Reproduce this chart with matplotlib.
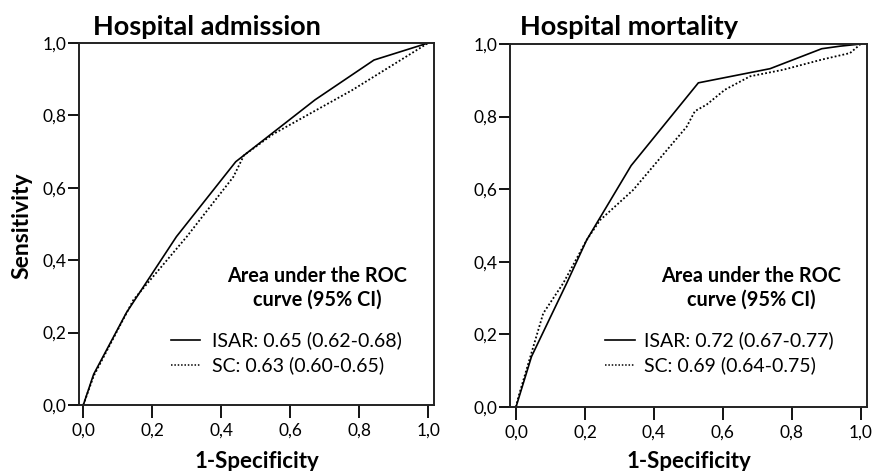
import matplotlib
matplotlib.use("Agg")
import matplotlib.pyplot as plt
from matplotlib.lines import Line2D

plt.rcParams['font.family'] = ['Lato', 'DejaVu Sans']

# ---- data ----
titles = ["Hospital admission", "Hospital mortality"]
adm_isar_x = [0.0, 0.03, 0.125, 0.27, 0.442, 0.672, 0.843, 1.0]
adm_isar_y = [0.0, 0.085, 0.255, 0.465, 0.672, 0.843, 0.953, 1.0]
adm_sc_x = [0.0, 0.03, 0.145, 0.30, 0.435, 0.466, 0.55, 0.78, 1.0]
adm_sc_y = [0.0, 0.08, 0.29, 0.465, 0.63, 0.69, 0.748, 0.87, 1.0]
mort_isar_x = [0.0, 0.045, 0.147, 0.205, 0.334, 0.529, 0.737, 0.887, 0.94, 1.0]
mort_isar_y = [0.0, 0.139, 0.341, 0.46, 0.665, 0.893, 0.932, 0.987, 0.994, 1.0]
mort_sc_x = [0.0, 0.007, 0.079, 0.137, 0.205, 0.244, 0.34, 0.495, 0.519, 0.553,
             0.606, 0.679, 0.775, 0.887, 0.969, 1.0]
mort_sc_y = [0.0, 0.028, 0.258, 0.341, 0.46, 0.515, 0.598, 0.772, 0.815, 0.833,
             0.874, 0.911, 0.929, 0.957, 0.975, 1.0]
legend_adm = ["ISAR: 0.65 (0.62-0.68)", "SC: 0.63 (0.60-0.65)"]
legend_mort = ["ISAR: 0.72 (0.67-0.77)", "SC: 0.69 (0.64-0.75)"]
ticks = [0.0, 0.2, 0.4, 0.6, 0.8, 1.0]
tick_labels = ["0,0", "0,2", "0,4", "0,6", "0,8", "1,0"]

W, H = 874, 471
fig = plt.figure(figsize=(W / 100, H / 100), dpi=100)

def px(x, y):
    return x / W, 1 - y / H

ax1 = fig.add_axes([79 / W, (H - 405) / H, (434 - 79) / W, (405 - 43) / H])
ax2 = fig.add_axes([510 / W, (H - 407) / H, (866.7 - 510) / W, (407 - 44) / H])

panels = [
    (ax1, adm_isar_x, adm_isar_y, adm_sc_x, adm_sc_y, (-0.0125, 1.017)),
    (ax2, mort_isar_x, mort_isar_y, mort_sc_x, mort_sc_y, (-0.0174, 1.0174)),
]

dotted = (0, (1, 1.2))
for ax, ix, iy, sx, sy, xl in panels:
    ax.plot(ix, iy, color='black', lw=1.2, solid_joinstyle='miter')
    ax.plot(sx, sy, color='black', lw=1.3, linestyle=dotted)
    ax.set_xlim(*xl)
    ax.set_ylim(0, 1.0)
    ax.set_xticks(ticks)
    ax.set_xticklabels(tick_labels)
    ax.set_yticks(ticks)
    ax.set_yticklabels(tick_labels)
    ax.tick_params(axis='x', direction='out', length=9, width=1.3, labelsize=12.5, pad=4)
    ax.tick_params(axis='y', direction='out', length=8, width=1.3, labelsize=12.5, pad=1)
    for s in ax.spines.values():
        s.set_linewidth(1.4)
        s.set_color('#222222')

# axis labels
fig.text(*px(257, 461), "1-Specificity", fontsize=16, fontweight='bold', ha='center', va='center')
fig.text(*px(689, 461), "1-Specificity", fontsize=16, fontweight='bold', ha='center', va='center')
fig.text(*px(22, 226), "Sensitivity", fontsize=16.5, fontweight='bold', ha='center', va='center',
         rotation=90)

# titles
fig.text(*px(93, 35), titles[0], fontsize=19.5, fontweight='bold', ha='left', va='baseline')
fig.text(*px(520, 35), titles[1], fontsize=19.5, fontweight='bold', ha='left', va='baseline')

# annotation + legend
for cx, lx0, lx1, tx, leg in [(317.5, 171, 200, 212, legend_adm),
                              (751, 605, 635, 644, legend_mort)]:
    fig.text(*px(cx, 287.5), "Area under the ROC\ncurve (95% CI)", fontsize=14.3,
             fontweight='bold', ha='center', va='center', linespacing=1.25)
    for i, (lab, ls) in enumerate(zip(leg, ['-', dotted])):
        y = 340 + 25 * i
        x0, y0 = px(lx0, y)
        x1, _ = px(lx1, y)
        fig.add_artist(Line2D([x0, x1], [y0, y0], color='black', lw=1.2 if ls == '-' else 1.1,
                              linestyle=ls, transform=fig.transFigure))
        fig.text(*px(tx, y), lab, fontsize=14, ha='left', va='center')

fig.savefig("out.png", dpi=100)
